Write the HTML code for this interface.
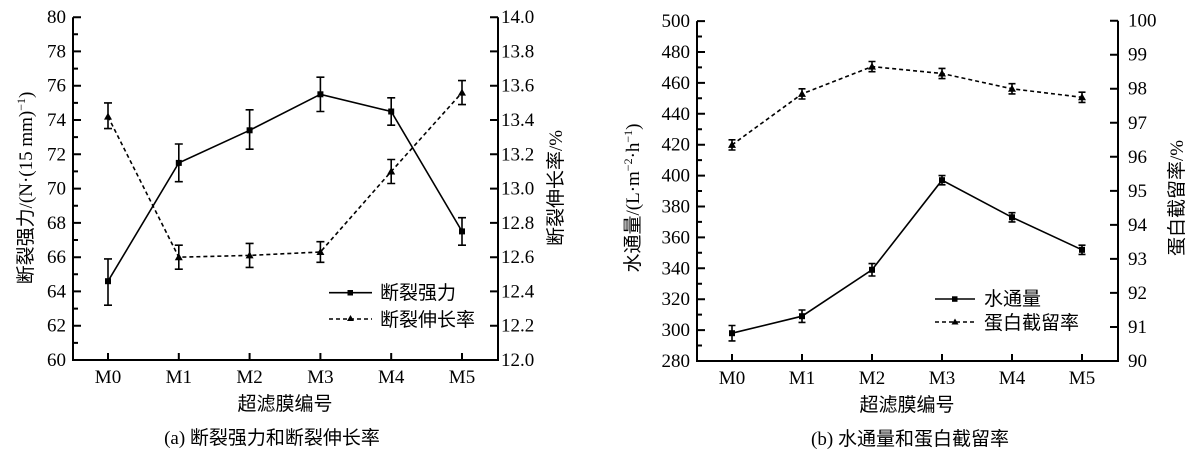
<!DOCTYPE html>
<html><head><meta charset="utf-8"><style>
html,body{margin:0;padding:0;background:#fff;}
svg{display:block;}
text{font-family:"Liberation Serif","Noto Sans CJK SC",serif;fill:#000;}
.t{font-size:19px;}
.c{font-family:"Liberation Serif","Noto Sans CJK SC",sans-serif;}
</style></head><body>
<svg width="1200" height="457" viewBox="0 0 1200 457" xmlns="http://www.w3.org/2000/svg">
<g stroke="#000" stroke-width="2" fill="none">
<path d="M73,17.2 V360 H498 V17.2"/>
<path d="M73,360h8M73,325.7h8M73,291.4h8M73,257.2h8M73,222.9h8M73,188.6h8M73,154.3h8M73,120h8M73,85.7h8M73,51.4h8M73,17.2h8"/>
<path d="M73,342.9h5M73,308.6h5M73,274.3h5M73,240h5M73,205.7h5M73,171.4h5M73,137.1h5M73,102.9h5M73,68.6h5M73,34.3h5"/>
<path d="M498,325.7h-8M498,291.4h-8M498,257.2h-8M498,222.9h-8M498,188.6h-8M498,154.3h-8M498,120h-8M498,85.7h-8M498,51.4h-8M498,17.2h-8"/>
<path d="M108,360v-7M178.8,360v-7M249.6,360v-7M320.4,360v-7M391.2,360v-7M462,360v-7"/>
<path d="M697,21.1 V361 H1118 V20.7"/>
<path d="M697,330.1h8M697,299.2h8M697,268.3h8M697,237.4h8M697,206.5h8M697,175.6h8M697,144.7h8M697,113.8h8M697,82.9h8M697,52h8M697,21.1h8"/>
<path d="M697,345.5h5M697,314.6h5M697,283.7h5M697,252.8h5M697,221.9h5M697,191h5M697,160.1h5M697,129.2h5M697,98.3h5M697,67.4h5M697,36.5h5"/>
<path d="M1118,327h-8M1118,292.9h-8M1118,258.9h-8M1118,224.9h-8M1118,190.9h-8M1118,156.8h-8M1118,122.8h-8M1118,88.8h-8M1118,54.7h-8M1118,20.7h-8"/>
<path d="M732,361v-7M802,361v-7M872,361v-7M942,361v-7M1012,361v-7M1082,361v-7"/>
</g>
<g stroke="#000" stroke-width="1.6" fill="none">
<polyline points="108,281.2 178.8,162.9 249.6,130.3 320.4,94.3 391.2,111.5 462,231.4"/>
<polyline stroke-dasharray="4,3" points="108,116.6 178.8,257.2 249.6,255.4 320.4,252 391.2,171.5 462,92.6"/>
<path d="M108,305.2V258.9M104,305.2h8M104,258.9h8 M178.8,181.7V144M174.8,181.7h8M174.8,144h8 M249.6,149.2V109.8M245.6,149.2h8M245.6,109.8h8 M320.4,111.5V77.2M316.4,111.5h8M316.4,77.2h8 M391.2,125.2V97.8M387.2,125.2h8M387.2,97.8h8 M462,245.2V217.7M458,245.2h8M458,217.7h8"/>
<path d="M108,128.6V102.9M104,128.6h8M104,102.9h8 M178.8,269.2V245.2M174.8,269.2h8M174.8,245.2h8 M249.6,267.4V243.4M245.6,267.4h8M245.6,243.4h8 M320.4,262.3V241.7M316.4,262.3h8M316.4,241.7h8 M391.2,183.5V159.5M387.2,183.5h8M387.2,159.5h8 M462,104.6V80.6M458,104.6h8M458,80.6h8"/>
<polyline points="732,333.2 802,316.2 872,269.8 942,180.2 1012,217.3 1082,249.8"/>
<polyline stroke-dasharray="4,3" points="732,144.9 802,93.9 872,66.6 942,73.5 1012,88.8 1082,97.3"/>
<path d="M732,340.9V325.5M728.5,340.9h7M728.5,325.5h7 M802,322.4V310M798.5,322.4h7M798.5,310h7 M872,276V263.6M868.5,276h7M868.5,263.6h7 M942,184.8V175.6M938.5,184.8h7M938.5,175.6h7 M1012,221.9V212.7M1008.5,221.9h7M1008.5,212.7h7 M1082,254.4V245.2M1078.5,254.4h7M1078.5,245.2h7"/>
<path d="M732,150V139.8M728.5,150h7M728.5,139.8h7 M802,99V88.8M798.5,99h7M798.5,88.8h7 M872,71.7V61.5M868.5,71.7h7M868.5,61.5h7 M942,78.6V68.4M938.5,78.6h7M938.5,68.4h7 M1012,93.9V83.7M1008.5,93.9h7M1008.5,83.7h7 M1082,102.4V92.2M1078.5,102.4h7M1078.5,92.2h7"/>
<path d="M329,292.7H372"/>
<path d="M329,319H372" stroke-dasharray="4,3"/>
<path d="M935,299H975"/>
<path d="M935,322H975" stroke-dasharray="4,3"/>
</g>
<g fill="#000">
<rect x="105" y="278.2" width="6" height="6"/><rect x="175.8" y="159.9" width="6" height="6"/><rect x="246.6" y="127.3" width="6" height="6"/><rect x="317.4" y="91.3" width="6" height="6"/><rect x="388.2" y="108.5" width="6" height="6"/><rect x="459" y="228.4" width="6" height="6"/>
<path d="M108,112.6l4,7h-8z M178.8,253.2l4,7h-8z M249.6,251.4l4,7h-8z M320.4,248l4,7h-8z M391.2,167.5l4,7h-8z M462,88.6l4,7h-8z"/>
<rect x="729" y="330.2" width="6" height="6"/><rect x="799" y="313.2" width="6" height="6"/><rect x="869" y="266.8" width="6" height="6"/><rect x="939" y="177.2" width="6" height="6"/><rect x="1009" y="214.3" width="6" height="6"/><rect x="1079" y="246.8" width="6" height="6"/>
<path d="M732,140.9l4,7h-8z M802,89.9l4,7h-8z M872,62.6l4,7h-8z M942,69.5l4,7h-8z M1012,84.8l4,7h-8z M1082,93.3l4,7h-8z"/>
<rect x="347.5" y="290" width="5.5" height="5.5"/>
<path d="M350.5,315l3.5,6h-7z"/>
<rect x="952" y="296.3" width="5.5" height="5.5"/>
<path d="M955,318.5l3.5,6h-7z"/>
</g>
<g class="t" text-anchor="end">
<text x="66" y="366">60</text><text x="66" y="331.7">62</text><text x="66" y="297.4">64</text><text x="66" y="263.2">66</text><text x="66" y="228.9">68</text><text x="66" y="194.6">70</text><text x="66" y="160.3">72</text><text x="66" y="126">74</text><text x="66" y="91.7">76</text><text x="66" y="57.4">78</text><text x="66" y="23.2">80</text>
<text x="690" y="367">280</text><text x="690" y="336.1">300</text><text x="690" y="305.2">320</text><text x="690" y="274.3">340</text><text x="690" y="243.4">360</text><text x="690" y="212.5">380</text><text x="690" y="181.6">400</text><text x="690" y="150.7">420</text><text x="690" y="119.8">440</text><text x="690" y="88.9">460</text><text x="690" y="58">480</text><text x="690" y="27.1">500</text>
</g>
<g class="t">
<text x="501" y="366">12.0</text><text x="501" y="331.7">12.2</text><text x="501" y="297.4">12.4</text><text x="501" y="263.2">12.6</text><text x="501" y="228.9">12.8</text><text x="501" y="194.6">13.0</text><text x="501" y="160.3">13.2</text><text x="501" y="126">13.4</text><text x="501" y="91.7">13.6</text><text x="501" y="57.4">13.8</text><text x="501" y="23.2">14.0</text>
<text x="1128" y="367">90</text><text x="1128" y="333">91</text><text x="1128" y="298.9">92</text><text x="1128" y="264.9">93</text><text x="1128" y="230.9">94</text><text x="1128" y="196.8">95</text><text x="1128" y="162.8">96</text><text x="1128" y="128.8">97</text><text x="1128" y="94.7">98</text><text x="1128" y="60.7">99</text><text x="1128" y="26.7">100</text>
</g>
<g class="t" text-anchor="middle">
<text x="108" y="383">M0</text><text x="178.8" y="383">M1</text><text x="249.6" y="383">M2</text><text x="320.4" y="383">M3</text><text x="391.2" y="383">M4</text><text x="462" y="383">M5</text>
<text x="732" y="384">M0</text><text x="802" y="384">M1</text><text x="872" y="384">M2</text><text x="942" y="384">M3</text><text x="1012" y="384">M4</text><text x="1082" y="384">M5</text>
</g>
<g class="c" text-anchor="middle" font-size="19">
<text x="285" y="410">超滤膜编号</text>
<text x="272" y="444">(a) 断裂强力和断裂伸长率</text>
<text x="907" y="411">超滤膜编号</text>
<text x="910" y="445">(b) 水通量和蛋白截留率</text>
<text transform="translate(32,188) rotate(-90)">断裂强力/(N·(15 mm)<tspan dy="-7" font-size="12">−1</tspan><tspan dy="7">)</tspan></text>
<text transform="translate(562,188) rotate(-90)">断裂伸长率/%</text>
<text transform="translate(639,198) rotate(-90)">水通量/(L·m<tspan dy="-7" font-size="12">−2</tspan><tspan dy="7">·h</tspan><tspan dy="-7" font-size="12">−1</tspan><tspan dy="7">)</tspan></text>
<text transform="translate(1183,198) rotate(-90)">蛋白截留率/%</text>
</g>
<g class="c" font-size="19">
<text x="380" y="299">断裂强力</text>
<text x="380" y="326">断裂伸长率</text>
<text x="984" y="305">水通量</text>
<text x="984" y="329">蛋白截留率</text>
</g>
</svg>
</body></html>
